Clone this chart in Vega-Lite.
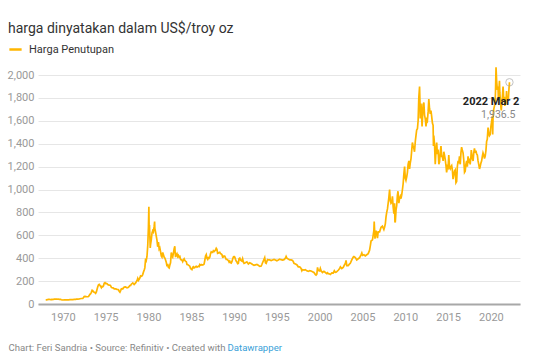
{
  "$schema": "https://vega.github.io/schema/vega-lite/v6.json",
  "width": 482,
  "height": 229,
  "autosize": {"type": "none"},
  "padding": {"left": 38, "top": 75, "right": 17, "bottom": 56},
  "background": "white",
  "config": {"font": "Roboto", "view": {"stroke": null}},
  "title": {"text": "harga dinyatakan dalam US$/troy oz", "anchor": "start", "frame": "group", "dx": -30, "offset": 6, "fontSize": 14, "fontWeight": "normal", "color": "#333333", "font": "Roboto"},
  "encoding": {
    "x": {"field": "year", "type": "quantitative",
      "scale": {"domain": [1967.1, 2023.4], "nice": false, "zero": false},
      "axis": {"values": [1970, 1975, 1980, 1985, 1990, 1995, 2000, 2005, 2010, 2015, 2020], "format": "d", "grid": false, "ticks": false, "tickSize": 0,
        "domainColor": "#a8a8a8", "domainWidth": 2, "labelColor": "#999999", "labelFontSize": 11, "labelPadding": 7, "labelFont": "Roboto",
        "title": "Datawrapper", "titleColor": "#3a9fd8", "titleFontSize": 9.6, "titleFontWeight": "normal", "titleFont": "Roboto",
        "titleX": 189, "titleY": 46, "titleAlign": "left", "titleBaseline": "alphabetic", "titleAnchor": null}},
    "y": {"field": "price", "type": "quantitative",
      "scale": {"domain": [0, 2000], "nice": false},
      "axis": {"values": [0, 200, 400, 600, 800, 1000, 1200, 1400, 1600, 1800, 2000], "format": ",.0f", "grid": true, "gridColor": "#e6e6e6", "gridWidth": 1,
        "domain": false, "ticks": false, "tickSize": 0, "labelColor": "#999999", "labelFontSize": 11, "labelPadding": 4, "labelFont": "Roboto",
        "title": "Chart: Feri Sandria • Source: Refinitiv • Created with", "titleAngle": 0, "titleX": -30, "titleY": 275, "titleAlign": "left", "titleBaseline": "alphabetic",
        "titleColor": "#888888", "titleFontSize": 9.6, "titleFontWeight": "normal", "titleFont": "Roboto", "titleAnchor": null}}
  },
  "layer": [
    {
      "data": {"values": [
        {"year":1968.00,"price":35.2},{"year":1968.08,"price":35.5},{"year":1968.17,"price":38},{"year":1968.25,"price":38.5},{"year":1968.33,"price":41},{"year":1968.42,"price":41.5},{"year":1968.50,"price":39.5},{"year":1968.58,"price":39},{"year":1968.67,"price":39.8},{"year":1968.75,"price":38.5},{"year":1968.83,"price":39.8},{"year":1968.92,"price":41},
        {"year":1969.00,"price":42.5},{"year":1969.08,"price":42.3},{"year":1969.17,"price":43.5},{"year":1969.25,"price":43.3},{"year":1969.33,"price":43.5},{"year":1969.42,"price":41.5},{"year":1969.50,"price":41.8},{"year":1969.58,"price":40.5},{"year":1969.67,"price":40.8},{"year":1969.75,"price":40.3},{"year":1969.83,"price":37.5},{"year":1969.92,"price":35.2},
        {"year":1970.00,"price":35},{"year":1970.17,"price":35.3},{"year":1970.33,"price":35.8},{"year":1970.50,"price":35.4},{"year":1970.67,"price":35.8},{"year":1970.83,"price":37.4},
        {"year":1971.00,"price":37.9},{"year":1971.17,"price":38.9},{"year":1971.33,"price":40.5},{"year":1971.50,"price":40.8},{"year":1971.58,"price":42.5},{"year":1971.75,"price":42.5},{"year":1971.92,"price":43.5},
        {"year":1972.00,"price":46},{"year":1972.17,"price":48.2},{"year":1972.33,"price":49},{"year":1972.42,"price":56},{"year":1972.50,"price":65},{"year":1972.58,"price":67},{"year":1972.75,"price":64.5},{"year":1972.92,"price":63.5},
        {"year":1973.00,"price":65},{"year":1973.08,"price":74},{"year":1973.17,"price":84},{"year":1973.25,"price":90.5},{"year":1973.33,"price":102},{"year":1973.42,"price":120},{"year":1973.50,"price":116},{"year":1973.58,"price":106},{"year":1973.67,"price":103},{"year":1973.75,"price":100},{"year":1973.83,"price":94},{"year":1973.92,"price":106},
        {"year":1974.00,"price":128},{"year":1974.08,"price":150},{"year":1974.17,"price":168},{"year":1974.25,"price":172},{"year":1974.33,"price":163},{"year":1974.42,"price":154},{"year":1974.50,"price":143},{"year":1974.58,"price":154},{"year":1974.67,"price":151},{"year":1974.75,"price":158},{"year":1974.83,"price":181},{"year":1974.92,"price":186},
        {"year":1975.00,"price":178},{"year":1975.08,"price":180},{"year":1975.17,"price":177},{"year":1975.25,"price":170},{"year":1975.33,"price":167},{"year":1975.42,"price":164},{"year":1975.50,"price":165},{"year":1975.58,"price":160},{"year":1975.67,"price":145},{"year":1975.75,"price":142},{"year":1975.83,"price":141},{"year":1975.92,"price":140},
        {"year":1976.00,"price":132},{"year":1976.17,"price":132},{"year":1976.33,"price":128},{"year":1976.50,"price":125},{"year":1976.58,"price":112},{"year":1976.67,"price":104},{"year":1976.75,"price":117},{"year":1976.83,"price":131},{"year":1976.92,"price":134},
        {"year":1977.00,"price":132},{"year":1977.17,"price":148},{"year":1977.33,"price":149},{"year":1977.50,"price":141},{"year":1977.67,"price":146},{"year":1977.83,"price":161},{"year":1977.92,"price":162},
        {"year":1978.00,"price":173},{"year":1978.17,"price":184},{"year":1978.33,"price":170},{"year":1978.50,"price":184},{"year":1978.67,"price":206},{"year":1978.75,"price":224},{"year":1978.83,"price":206},{"year":1978.92,"price":216},
        {"year":1979.00,"price":227},{"year":1979.08,"price":245},{"year":1979.17,"price":242},{"year":1979.25,"price":245},{"year":1979.33,"price":257},{"year":1979.42,"price":279},{"year":1979.50,"price":296},{"year":1979.58,"price":315},{"year":1979.67,"price":397},{"year":1979.75,"price":382},{"year":1979.83,"price":415},{"year":1979.92,"price":512},
        {"year":1980.00,"price":675},{"year":1980.05,"price":850},{"year":1980.08,"price":680},{"year":1980.12,"price":690},{"year":1980.17,"price":580},{"year":1980.21,"price":490},{"year":1980.25,"price":520},{"year":1980.33,"price":560},{"year":1980.42,"price":620},{"year":1980.50,"price":640},{"year":1980.58,"price":630},{"year":1980.67,"price":680},{"year":1980.72,"price":720},{"year":1980.75,"price":660},{"year":1980.83,"price":630},{"year":1980.92,"price":590},
        {"year":1981.00,"price":555},{"year":1981.08,"price":500},{"year":1981.17,"price":540},{"year":1981.25,"price":480},{"year":1981.33,"price":490},{"year":1981.42,"price":455},{"year":1981.50,"price":420},{"year":1981.58,"price":410},{"year":1981.67,"price":450},{"year":1981.75,"price":430},{"year":1981.83,"price":410},{"year":1981.92,"price":400},
        {"year":1982.00,"price":385},{"year":1982.08,"price":365},{"year":1982.17,"price":330},{"year":1982.25,"price":350},{"year":1982.33,"price":320},{"year":1982.42,"price":315},{"year":1982.50,"price":340},{"year":1982.58,"price":360},{"year":1982.67,"price":450},{"year":1982.75,"price":420},{"year":1982.83,"price":410},{"year":1982.92,"price":445},
        {"year":1983.00,"price":480},{"year":1983.08,"price":505},{"year":1983.12,"price":450},{"year":1983.17,"price":410},{"year":1983.25,"price":430},{"year":1983.33,"price":440},{"year":1983.42,"price":415},{"year":1983.50,"price":425},{"year":1983.58,"price":410},{"year":1983.67,"price":415},{"year":1983.75,"price":390},{"year":1983.83,"price":385},{"year":1983.92,"price":383},
        {"year":1984.00,"price":370},{"year":1984.08,"price":385},{"year":1984.17,"price":395},{"year":1984.25,"price":380},{"year":1984.33,"price":375},{"year":1984.42,"price":370},{"year":1984.50,"price":345},{"year":1984.58,"price":345},{"year":1984.67,"price":340},{"year":1984.75,"price":335},{"year":1984.83,"price":330},{"year":1984.92,"price":310},
        {"year":1985.00,"price":305},{"year":1985.08,"price":300},{"year":1985.17,"price":320},{"year":1985.25,"price":325},{"year":1985.33,"price":315},{"year":1985.42,"price":318},{"year":1985.50,"price":327},{"year":1985.58,"price":330},{"year":1985.67,"price":322},{"year":1985.75,"price":325},{"year":1985.83,"price":330},{"year":1985.92,"price":327},
        {"year":1986.00,"price":345},{"year":1986.08,"price":340},{"year":1986.17,"price":345},{"year":1986.25,"price":340},{"year":1986.33,"price":342},{"year":1986.42,"price":343},{"year":1986.50,"price":348},{"year":1986.58,"price":380},{"year":1986.67,"price":420},{"year":1986.75,"price":432},{"year":1986.83,"price":400},{"year":1986.92,"price":390},
        {"year":1987.00,"price":405},{"year":1987.08,"price":400},{"year":1987.17,"price":410},{"year":1987.25,"price":440},{"year":1987.33,"price":455},{"year":1987.42,"price":450},{"year":1987.50,"price":450},{"year":1987.58,"price":465},{"year":1987.67,"price":458},{"year":1987.75,"price":465},{"year":1987.83,"price":470},{"year":1987.92,"price":486},
        {"year":1988.00,"price":477},{"year":1988.08,"price":442},{"year":1988.17,"price":445},{"year":1988.25,"price":450},{"year":1988.33,"price":452},{"year":1988.42,"price":440},{"year":1988.50,"price":437},{"year":1988.58,"price":432},{"year":1988.67,"price":408},{"year":1988.75,"price":410},{"year":1988.83,"price":420},{"year":1988.92,"price":418},
        {"year":1989.00,"price":404},{"year":1989.08,"price":390},{"year":1989.17,"price":390},{"year":1989.25,"price":385},{"year":1989.33,"price":380},{"year":1989.42,"price":366},{"year":1989.50,"price":374},{"year":1989.58,"price":362},{"year":1989.67,"price":358},{"year":1989.75,"price":370},{"year":1989.83,"price":390},{"year":1989.92,"price":410},
        {"year":1990.00,"price":415},{"year":1990.08,"price":410},{"year":1990.17,"price":390},{"year":1990.25,"price":375},{"year":1990.33,"price":368},{"year":1990.42,"price":352},{"year":1990.50,"price":355},{"year":1990.58,"price":395},{"year":1990.67,"price":400},{"year":1990.75,"price":385},{"year":1990.83,"price":380},{"year":1990.92,"price":375},
        {"year":1991.00,"price":395},{"year":1991.08,"price":370},{"year":1991.17,"price":355},{"year":1991.25,"price":358},{"year":1991.33,"price":360},{"year":1991.50,"price":368},{"year":1991.67,"price":350},{"year":1991.83,"price":360},
        {"year":1992.00,"price":354},{"year":1992.17,"price":345},{"year":1992.33,"price":338},{"year":1992.50,"price":342},{"year":1992.67,"price":345},{"year":1992.83,"price":338},
        {"year":1993.00,"price":329},{"year":1993.17,"price":332},{"year":1993.25,"price":345},{"year":1993.33,"price":360},{"year":1993.50,"price":390},{"year":1993.58,"price":405},{"year":1993.67,"price":360},{"year":1993.75,"price":355},{"year":1993.83,"price":372},{"year":1993.92,"price":388},
        {"year":1994.00,"price":385},{"year":1994.17,"price":385},{"year":1994.33,"price":380},{"year":1994.50,"price":385},{"year":1994.67,"price":390},{"year":1994.83,"price":385},
        {"year":1995.00,"price":378},{"year":1995.17,"price":385},{"year":1995.33,"price":392},{"year":1995.50,"price":387},{"year":1995.67,"price":384},{"year":1995.83,"price":387},
        {"year":1996.00,"price":400},{"year":1996.08,"price":415},{"year":1996.17,"price":400},{"year":1996.33,"price":392},{"year":1996.50,"price":385},{"year":1996.67,"price":385},{"year":1996.83,"price":380},{"year":1996.92,"price":370},
        {"year":1997.00,"price":355},{"year":1997.17,"price":350},{"year":1997.33,"price":343},{"year":1997.50,"price":325},{"year":1997.67,"price":325},{"year":1997.83,"price":310},{"year":1997.92,"price":290},
        {"year":1998.00,"price":300},{"year":1998.17,"price":296},{"year":1998.33,"price":300},{"year":1998.50,"price":290},{"year":1998.67,"price":285},{"year":1998.83,"price":292},
        {"year":1999.00,"price":288},{"year":1999.17,"price":282},{"year":1999.33,"price":275},{"year":1999.50,"price":257},{"year":1999.58,"price":253},{"year":1999.67,"price":260},{"year":1999.75,"price":320},{"year":1999.83,"price":295},{"year":1999.92,"price":290},
        {"year":2000.00,"price":288},{"year":2000.08,"price":310},{"year":2000.17,"price":290},{"year":2000.33,"price":275},{"year":2000.50,"price":285},{"year":2000.67,"price":275},{"year":2000.83,"price":265},{"year":2000.92,"price":272},
        {"year":2001.00,"price":265},{"year":2001.17,"price":262},{"year":2001.25,"price":258},{"year":2001.42,"price":272},{"year":2001.58,"price":270},{"year":2001.71,"price":290},{"year":2001.83,"price":277},{"year":2001.92,"price":278},
        {"year":2002.00,"price":282},{"year":2002.17,"price":295},{"year":2002.33,"price":310},{"year":2002.42,"price":325},{"year":2002.58,"price":310},{"year":2002.75,"price":320},{"year":2002.92,"price":345},
        {"year":2003.00,"price":355},{"year":2003.08,"price":380},{"year":2003.17,"price":335},{"year":2003.33,"price":335},{"year":2003.50,"price":350},{"year":2003.58,"price":355},{"year":2003.75,"price":385},{"year":2003.92,"price":410},
        {"year":2004.00,"price":415},{"year":2004.17,"price":405},{"year":2004.33,"price":385},{"year":2004.50,"price":395},{"year":2004.67,"price":405},{"year":2004.83,"price":430},{"year":2004.92,"price":445},
        {"year":2005.00,"price":425},{"year":2005.17,"price":430},{"year":2005.33,"price":420},{"year":2005.50,"price":430},{"year":2005.67,"price":440},{"year":2005.83,"price":470},{"year":2005.92,"price":510},
        {"year":2006.00,"price":550},{"year":2006.17,"price":560},{"year":2006.33,"price":640},{"year":2006.37,"price":720},{"year":2006.42,"price":640},{"year":2006.46,"price":570},{"year":2006.58,"price":640},{"year":2006.67,"price":610},{"year":2006.75,"price":575},{"year":2006.83,"price":630},{"year":2006.92,"price":630},
        {"year":2007.00,"price":630},{"year":2007.17,"price":670},{"year":2007.33,"price":680},{"year":2007.50,"price":650},{"year":2007.58,"price":670},{"year":2007.67,"price":700},{"year":2007.75,"price":760},{"year":2007.83,"price":800},{"year":2007.92,"price":830},
        {"year":2008.00,"price":880},{"year":2008.08,"price":930},{"year":2008.17,"price":1000},{"year":2008.25,"price":900},{"year":2008.33,"price":880},{"year":2008.42,"price":890},{"year":2008.50,"price":940},{"year":2008.58,"price":850},{"year":2008.67,"price":790},{"year":2008.75,"price":880},{"year":2008.79,"price":720},{"year":2008.83,"price":712},{"year":2008.92,"price":820},
        {"year":2009.00,"price":860},{"year":2009.08,"price":950},{"year":2009.15,"price":985},{"year":2009.25,"price":880},{"year":2009.33,"price":920},{"year":2009.42,"price":940},{"year":2009.50,"price":920},{"year":2009.58,"price":950},{"year":2009.67,"price":1000},{"year":2009.75,"price":1050},{"year":2009.83,"price":1130},{"year":2009.92,"price":1200},
        {"year":2010.00,"price":1100},{"year":2010.08,"price":1080},{"year":2010.17,"price":1110},{"year":2010.25,"price":1150},{"year":2010.33,"price":1220},{"year":2010.42,"price":1250},{"year":2010.50,"price":1180},{"year":2010.58,"price":1230},{"year":2010.67,"price":1270},{"year":2010.75,"price":1340},{"year":2010.83,"price":1410},{"year":2010.92,"price":1380},
        {"year":2011.00,"price":1360},{"year":2011.08,"price":1330},{"year":2011.17,"price":1420},{"year":2011.25,"price":1470},{"year":2011.33,"price":1520},{"year":2011.42,"price":1530},{"year":2011.50,"price":1600},{"year":2011.58,"price":1800},{"year":2011.67,"price":1900},{"year":2011.71,"price":1780},{"year":2011.75,"price":1620},{"year":2011.79,"price":1680},{"year":2011.83,"price":1750},{"year":2011.88,"price":1700},{"year":2011.96,"price":1550},
        {"year":2012.00,"price":1600},{"year":2012.08,"price":1740},{"year":2012.17,"price":1760},{"year":2012.25,"price":1650},{"year":2012.33,"price":1620},{"year":2012.42,"price":1550},{"year":2012.50,"price":1610},{"year":2012.58,"price":1600},{"year":2012.67,"price":1680},{"year":2012.75,"price":1790},{"year":2012.83,"price":1710},{"year":2012.92,"price":1660},
        {"year":2013.00,"price":1690},{"year":2013.08,"price":1640},{"year":2013.17,"price":1580},{"year":2013.25,"price":1560},{"year":2013.29,"price":1380},{"year":2013.33,"price":1470},{"year":2013.42,"price":1390},{"year":2013.50,"price":1220},{"year":2013.58,"price":1330},{"year":2013.67,"price":1410},{"year":2013.75,"price":1310},{"year":2013.83,"price":1350},{"year":2013.92,"price":1220},
        {"year":2014.00,"price":1240},{"year":2014.08,"price":1320},{"year":2014.17,"price":1380},{"year":2014.25,"price":1290},{"year":2014.33,"price":1290},{"year":2014.42,"price":1250},{"year":2014.50,"price":1330},{"year":2014.58,"price":1300},{"year":2014.67,"price":1260},{"year":2014.75,"price":1210},{"year":2014.83,"price":1150},{"year":2014.92,"price":1200},
        {"year":2015.00,"price":1190},{"year":2015.08,"price":1300},{"year":2015.17,"price":1190},{"year":2015.25,"price":1180},{"year":2015.33,"price":1200},{"year":2015.42,"price":1210},{"year":2015.50,"price":1170},{"year":2015.58,"price":1090},{"year":2015.67,"price":1130},{"year":2015.75,"price":1160},{"year":2015.83,"price":1170},{"year":2015.92,"price":1060},
        {"year":2016.00,"price":1070},{"year":2016.08,"price":1200},{"year":2016.17,"price":1250},{"year":2016.25,"price":1230},{"year":2016.33,"price":1290},{"year":2016.42,"price":1220},{"year":2016.50,"price":1320},{"year":2016.58,"price":1370},{"year":2016.67,"price":1340},{"year":2016.75,"price":1320},{"year":2016.83,"price":1260},{"year":2016.92,"price":1150},
        {"year":2017.00,"price":1160},{"year":2017.08,"price":1220},{"year":2017.17,"price":1250},{"year":2017.25,"price":1200},{"year":2017.33,"price":1290},{"year":2017.42,"price":1230},{"year":2017.50,"price":1270},{"year":2017.58,"price":1220},{"year":2017.67,"price":1290},{"year":2017.71,"price":1345},{"year":2017.83,"price":1270},{"year":2017.92,"price":1250},
        {"year":2018.00,"price":1320},{"year":2018.08,"price":1360},{"year":2018.17,"price":1320},{"year":2018.25,"price":1340},{"year":2018.33,"price":1310},{"year":2018.42,"price":1300},{"year":2018.50,"price":1250},{"year":2018.58,"price":1220},{"year":2018.67,"price":1180},{"year":2018.75,"price":1200},{"year":2018.83,"price":1230},{"year":2018.92,"price":1250},
        {"year":2019.00,"price":1290},{"year":2019.08,"price":1320},{"year":2019.17,"price":1300},{"year":2019.25,"price":1270},{"year":2019.33,"price":1290},{"year":2019.42,"price":1340},{"year":2019.50,"price":1420},{"year":2019.58,"price":1440},{"year":2019.67,"price":1540},{"year":2019.75,"price":1490},{"year":2019.83,"price":1470},{"year":2019.92,"price":1480},
        {"year":2020.00,"price":1550},{"year":2020.08,"price":1590},{"year":2020.17,"price":1640},{"year":2020.21,"price":1480},{"year":2020.25,"price":1630},{"year":2020.33,"price":1700},{"year":2020.42,"price":1730},{"year":2020.50,"price":1770},{"year":2020.54,"price":1860},{"year":2020.58,"price":2000},{"year":2020.60,"price":2067},{"year":2020.67,"price":1950},{"year":2020.75,"price":1870},{"year":2020.83,"price":1900},{"year":2020.87,"price":1800},{"year":2020.92,"price":1840},
        {"year":2021.00,"price":1950},{"year":2021.04,"price":1850},{"year":2021.08,"price":1810},{"year":2021.17,"price":1720},{"year":2021.21,"price":1690},{"year":2021.25,"price":1730},{"year":2021.33,"price":1790},{"year":2021.42,"price":1900},{"year":2021.46,"price":1850},{"year":2021.50,"price":1780},{"year":2021.58,"price":1810},{"year":2021.63,"price":1730},{"year":2021.67,"price":1790},{"year":2021.75,"price":1750},{"year":2021.83,"price":1860},{"year":2021.88,"price":1780},{"year":2021.92,"price":1800},
        {"year":2022.00,"price":1810},{"year":2022.04,"price":1790},{"year":2022.08,"price":1840},{"year":2022.13,"price":1900},{"year":2022.15,"price":1900},{"year":2022.167,"price":1936.5}
      ]},
      "mark": {"type": "line", "strokeWidth": 1.7, "clip": false},
      "encoding": {
        "color": {"datum": "Harga Penutupan", "type": "nominal",
          "scale": {"range": ["#ffb600"]},
          "legend": {"orient": "none", "legendX": -30, "legendY": -33, "title": null, "symbolType": "stroke", "symbolStrokeWidth": 2.5, "symbolSize": 150,
            "labelFontSize": 11, "labelColor": "#333333", "labelFont": "Roboto", "labelOffset": 6, "padding": 0}}
      }
    },
    {
      "data": {"values": [{"year": 2022.167, "price": 1936.5, "date": "2022 Mar 2", "val": "1,936.5"}]},
      "mark": {"type": "point", "filled": false, "stroke": "#aaaaaa", "strokeWidth": 1, "size": 55}
    },
    {
      "data": {"values": [{"year": 2022.167, "price": 1936.5, "date": "2022 Mar 2", "val": "1,936.5"}]},
      "mark": {"type": "text", "align": "right", "baseline": "middle", "dx": 10, "dy": 20, "fontSize": 11, "fontWeight": "bold", "color": "#222222", "font": "Roboto"},
      "encoding": {"text": {"field": "date"}}
    },
    {
      "data": {"values": [{"year": 2022.167, "price": 1936.5, "date": "2022 Mar 2", "val": "1,936.5"}]},
      "mark": {"type": "text", "align": "right", "baseline": "middle", "dx": 6, "dy": 33, "fontSize": 10.5, "color": "#888888", "font": "Roboto"},
      "encoding": {"text": {"field": "val"}}
    }
  ]
}
